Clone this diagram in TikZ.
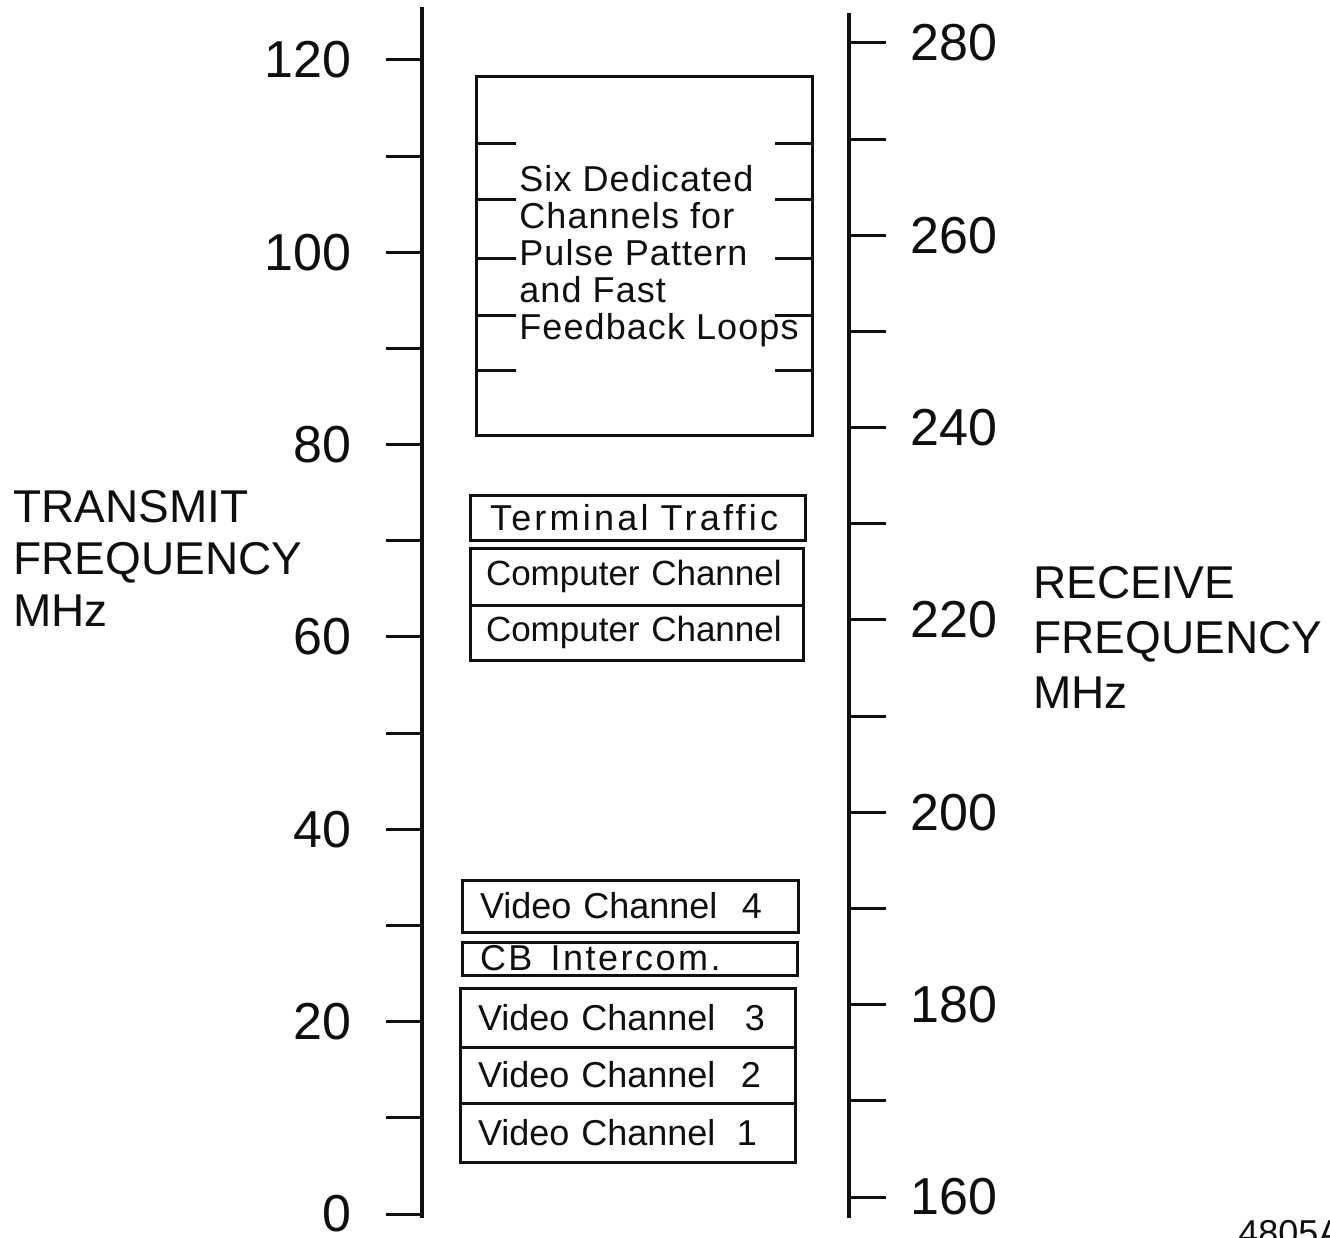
\documentclass[tikz,border=0pt]{standalone}
\usepackage{fontspec}
\setmainfont{Liberation Sans}
\usepackage{xcolor}
\definecolor{chartInk}{RGB}{15, 15, 15}
\usepackage{tikz}

\begin{document}
\begin{tikzpicture}[
    x=0.5pt, y=-0.5pt,
    axisLine/.style={
        draw=chartInk, line width=2pt
    },
    tickLine/.style={
        draw=chartInk, line width=1.5pt
    },
    tickLabel/.style={
        text=chartInk, inner sep=0pt,
        font=\fontsize{26}{28}\selectfont
    },
    axisTitle/.style={
        text=chartInk, inner sep=0pt, align=left,
        font=\fontsize{23}{26}\selectfont
    },
    bandBox/.style={
        rectangle, draw=chartInk, line width=1.5pt, text=chartInk,
        inner xsep=9pt, inner ysep=0pt, align=left,
        font=\fontsize{18}{18.5}\selectfont
    },
    wideText/.style={
        font=\fontsize{18}{18.5}\selectfont\addfontfeature{LetterSpace=#1}
    },
    plateNode/.style={
        text=chartInk, inner sep=0pt, font=\fontsize{18}{20}\selectfont
    }
]

    \useasboundingbox[fill=white] (0,0) rectangle (1330,1238);

    % Left: Transmit axis
    \coordinate (txTop) at (422,7);
    \coordinate (txBot) at (422,1218);
    \draw[axisLine] (txTop) -- (txBot);
    \foreach \v in {0,10,...,120} {
        \pgfmathsetmacro\yy{1214-9.617*\v}
        \draw[tickLine] (422,\yy) -- ++(-36,0);
    }
    \foreach \v in {0,20,...,120} {
        \pgfmathsetmacro\yy{1214-9.617*\v}
        \node[tickLabel, anchor=east] (tx\v) at (352,\yy) {\v};
    }

    % Right: Receive axis
    \coordinate (rxTop) at (849,13);
    \coordinate (rxBot) at (849,1218);
    \draw[axisLine] (rxTop) -- (rxBot);
    \foreach \f in {160,170,...,280} {
        \pgfmathsetmacro\yy{1197-9.617*(\f-160)}
        \draw[tickLine] (849,\yy) -- ++(37,0);
    }
    \foreach \f in {160,180,...,280} {
        \pgfmathsetmacro\yy{1197-9.617*(\f-160)}
        \node[tickLabel, anchor=west] (rx\f) at (910,\yy) {\f};
    }

    % Axis titles
    \node[axisTitle, anchor=west] (txTitle) at (13,558) {TRANSMIT\\FREQUENCY\\MHz};
    \node[axisTitle, anchor=west, font=\fontsize{23}{27.5}\selectfont] (rxTitle) at (1033,637) {RECEIVE\\FREQUENCY\\MHz};

    % Top band: dedicated channels
    \node[bandBox, wideText=3, inner xsep=0pt, minimum width=168pt, minimum height=179.5pt] (sixBox) at (644,256) {
        \hspace*{15pt}Six Dedicated\\
        \hspace*{15pt}Channels for\\
        \hspace*{15pt}Pulse Pattern\\
        \hspace*{15pt}and Fast\\
        \hspace*{15pt}Feedback Loops
    };
    \foreach \yy in {143,199,258,315,370} {
        \draw[tickLine] (476,\yy) -- ++(40,0);
        \draw[tickLine] (812,\yy) -- ++(-37,0);
    }

    % Middle band: terminal and computer channels
    \node[bandBox, wideText=9, inner xsep=10pt, minimum width=167.5pt, minimum height=22.5pt, text width=147.5pt] (termBox) at (637.5,517.5) {Terminal Traffic};
    \node[bandBox, font=\fontsize{17.5}{18.5}\selectfont, inner xsep=8pt, minimum width=166.5pt, minimum height=28.5pt, text width=150.5pt] (compTop) at (636.5,576.5) {Computer Channel};
    \node[bandBox, font=\fontsize{17.5}{18.5}\selectfont, inner xsep=8pt, minimum width=166.5pt, minimum height=27.5pt, text width=150.5pt] (compBot) at (636.5,632.5) {Computer Channel};

    % Bottom band: video and intercom
    \node[bandBox, minimum width=168pt, minimum height=26pt, text width=150pt] (vidFour) at (630,906) {Video Channel\hfill 4\hspace*{9pt}};
    \node[bandBox, wideText=7, minimum width=167.5pt, minimum height=16.5pt, text width=149.5pt] (cbBox) at (629.5,958.5) {CB\enspace Intercom.};
    \node[bandBox, minimum width=167.5pt, minimum height=29.5pt, text width=149.5pt] (vidThree) at (627.5,1017.5) {Video Channel\hfill 3\hspace*{6pt}};
    \node[bandBox, minimum width=167.5pt, minimum height=28pt, text width=149.5pt] (vidTwo) at (627.5,1075) {Video Channel\hfill 2\hspace*{8pt}};
    \node[bandBox, minimum width=167.5pt, minimum height=29.5pt, text width=149.5pt] (vidOne) at (627.5,1132.5) {Video Channel\hfill 1\hspace*{10pt}};

    % Plate number
    \node[plateNode, anchor=north west] (plate) at (1238,1220) {4805A};

\end{tikzpicture}
\end{document}
